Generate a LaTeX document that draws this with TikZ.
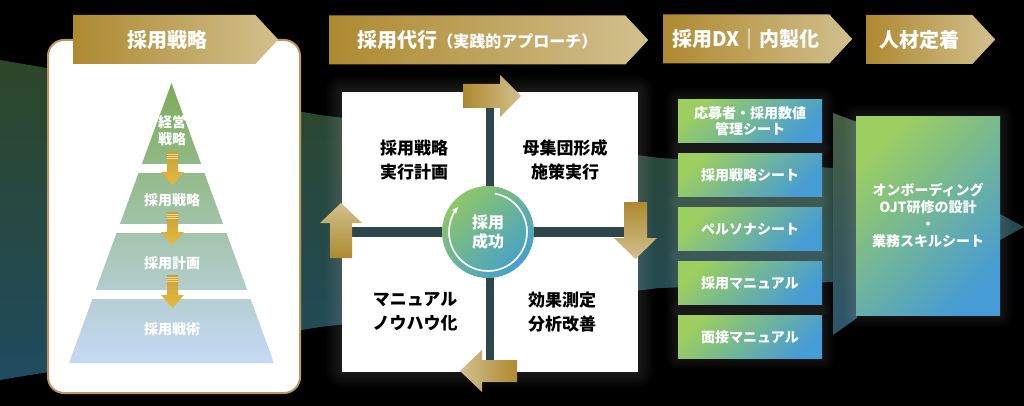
\documentclass[tikz,border=0pt]{standalone}
\usepackage{fontspec}
\setmainfont{Noto Sans CJK JP}
\usepackage{tikz}
\usetikzlibrary{positioning,shapes.symbols,arrows.meta}
\definecolor{GoldDark}{RGB}{174,137,48}
\definecolor{GoldLight}{RGB}{210,192,142}
\definecolor{GoldMid}{RGB}{200,160,62}
\definecolor{GoldBright}{RGB}{232,186,58}
\definecolor{BandTop}{RGB}{44,70,40}
\definecolor{BandBot}{RGB}{32,76,96}
\definecolor{CardEdge}{RGB}{186,152,94}
\definecolor{PyrTop}{RGB}{124,172,88}
\definecolor{PyrBot}{RGB}{198,217,247}
\definecolor{CrossGrey}{RGB}{44,70,76}
\definecolor{HubGreen}{RGB}{142,198,104}
\definecolor{HubBlue}{RGB}{70,160,204}
\definecolor{TileGreen}{RGB}{156,206,96}
\definecolor{TileBlue}{RGB}{70,156,212}

\begin{document}
\begin{tikzpicture}[
        x=1pt, y=-1pt,
        % --- headers ---
        hdr/.style={signal, signal to=east, signal pointer angle=94, left color=GoldDark, right color=GoldLight,
            minimum height=49pt, inner sep=0pt, anchor=west, text=white, font=\bfseries\fontsize{20}{24}\selectfont},
        % --- boxes and texts ---
        card/.style={draw=CardEdge, line width=2pt, fill=white, rounded corners=16pt, minimum width=252pt, minimum height=353pt},
        pyr_txt/.style={text=white, font=\bfseries\fontsize{14}{17}\selectfont, align=center},
        pyr_arrow/.style={top color=GoldMid, bottom color=GoldBright},
        quad/.style={fill=white, minimum width=144pt, minimum height=135pt, inner sep=0pt},
        quad_txt/.style={text=black, font=\bfseries\fontsize{17}{24}\selectfont, align=center},
        hub/.style={circle, minimum size=92pt, inner sep=0pt, top color=HubGreen, bottom color=HubBlue, shading angle=45,
            text=white, font=\bfseries\fontsize{16}{19}\selectfont, align=center},
        tile/.style={minimum width=144pt, minimum height=43pt, inner sep=0pt, top color=TileGreen, bottom color=TileBlue,
            shading angle=45, text=white, font=\bfseries\fontsize{14}{16}\selectfont, align=center},
        glow/.style={white, opacity=0.014},
        node distance=10.5pt
    ]

    % --- background and band ---
    \fill[black] (0,0) rectangle (1024,406);
    \useasboundingbox (0,0) rectangle (1024,406);
    \shade[top color=BandTop, bottom color=BandBot]
        (0,60) -- (320,115) -- (660,158) -- (833,168) -- (833,282) -- (660,288) -- (320,327) -- (0,380) -- cycle;
    \shade[top color=BandTop!88!white, bottom color=BandBot!95!white]
        (833,113) -- (857,122) -- (857,318) -- (833,335) -- cycle;
    \fill[BandBot!70!BandTop] (998,213) -- (1024,227) -- (998,241) -- cycle;

    % --- strategy card ---
    \node[card] (card) at (174,216.5) {};
    \node[hdr, minimum width=205pt] (hdrStrategy) at (73,39.5) {\hspace{6pt}採用戦略};

    \shade[top color=PyrTop, bottom color=PyrBot] (171.5,83) -- (274,363) -- (69,363) -- cycle;
    \foreach \gap in {164,224,290}
        \fill[white] (60,\gap) rectangle (288,{\gap+9});
    \node[pyr_txt] (lvlMgmt) at (172,131) {経営\\戦略};
    \node[pyr_txt] (lvlStrategy) at (172,200) {採用戦略};
    \node[pyr_txt] (lvlPlan) at (172,263) {採用計画};
    \node[pyr_txt] (lvlTactics) at (172,329) {採用戦術};
    \foreach \tip in {185,245,308}{
        \shade[pyr_arrow] (167,{\tip-33}) -- (178,{\tip-33}) -- (178,{\tip-13}) -- (184,{\tip-13})
            -- (172.5,\tip) -- (161,{\tip-13}) -- (167,{\tip-13}) -- cycle;
        \foreach \s in {31,29,27}
            \draw[GoldBright!60!white, line width=0.5pt] (167,{\tip-\s}) -- (178,{\tip-\s});
    }

    % --- agency cycle ---
    \node[hdr, minimum width=319pt] (hdrAgency) at (329,40)
        {採用代行{\fontsize{16}{18}\selectfont （実践的アプローチ）}};
    \foreach \g in {2,4,...,16}
        \fill[glow, rounded corners=\g pt] ({342-\g},{92-\g}) rectangle ({637+\g},{371+\g});
    \fill[CrossGrey] (342,92) rectangle (637,371);
    \node[quad] (qPlan) at (414,159.5) {};
    \node[quad] (qPool) at (565.5,159.5) {};
    \node[quad] (qManual) at (414,304) {};
    \node[quad] (qMeasure) at (565.5,304) {};
    \node[quad_txt] at (414,160) {採用戦略\\実行計画};
    \node[quad_txt] at (565,160) {母集団形成\\施策実行};
    \node[quad_txt] at (415,312) {マニュアル\\ノウハウ化};
    \node[quad_txt] at (562,312) {効果測定\\分析改善};

    \shade[left color=GoldDark, right color=GoldLight]
        (463,84) -- (500,84) -- (500,75) -- (521,96) -- (500,117) -- (500,108) -- (463,108) -- cycle;
    \shade[top color=GoldDark, bottom color=GoldLight]
        (624,202) -- (647,202) -- (647,238) -- (657,238) -- (635.5,259) -- (614,238) -- (624,238) -- cycle;
    \shade[left color=GoldLight, right color=GoldDark]
        (517,360) -- (482,360) -- (482,350) -- (460,371) -- (482,392) -- (482,382) -- (517,382) -- cycle;
    \shade[top color=GoldLight, bottom color=GoldDark]
        (330,258) -- (330,223) -- (320,223) -- (341,203) -- (362,223) -- (352,223) -- (352,258) -- cycle;

    \node[hub] (hub) at (488,232) {採用\\成功};
    \draw[white, line width=1.6pt, -{Stealth[length=7pt, width=6pt]}]
        ([shift={(-80:39)}]hub.center) arc (-80:220:39);

    % --- DX tools ---
    \node[hdr, minimum width=189pt] (hdrDX) at (663,39) {採用DX｜内製化};
    \foreach \top in {100,153.5,207,260.5,314}
        \foreach \g in {2,4,...,12}
            \fill[glow, rounded corners=\g pt] ({678-\g},{\top-\g}) rectangle ({822+\g},{\top+43+\g});
    \node[tile] (tileCount) at (750,121.5) {応募者・採用数値\\管理シート};
    \node[tile, below=of tileCount] (tileSheet) {採用戦略シート};
    \node[tile, below=of tileSheet] (tilePersona) {ペルソナシート};
    \node[tile, below=of tilePersona] (tileManual) {採用マニュアル};
    \node[tile, below=of tileManual] (tileInterview) {面接マニュアル};

    % --- retention ---
    \node[hdr, minimum width=129pt] (hdrRetain) at (866,39.5) {人材定着};
    \foreach \g in {2,4,...,12}
        \fill[glow, rounded corners=\g pt] ({856-\g},{117-\g}) rectangle ({1000+\g},{315+\g});
    \node[tile, minimum height=198pt, font=\bfseries\fontsize{14}{17}\selectfont] (onboard) at (928,216)
        {オンボーディング\\OJT研修の設計\\・\\業務スキルシート};

\end{tikzpicture}
\end{document}
